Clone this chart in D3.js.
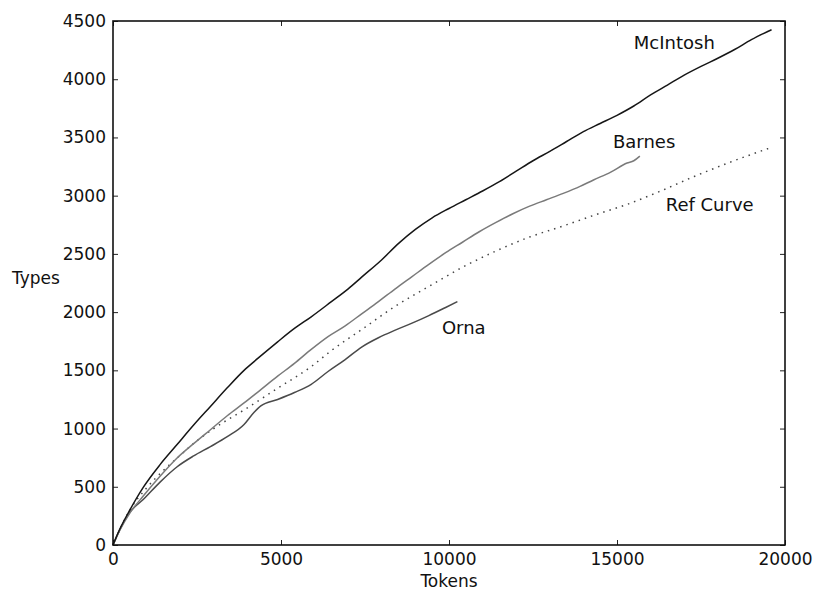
<!DOCTYPE html>
<html>
<head>
<meta charset="utf-8">
<script src="https://cdn.jsdelivr.net/npm/d3@7"></script>
<style>
  body { margin: 0; background: #fff; }
  text { font-family: "DejaVu Sans", sans-serif; fill: #111; }
</style>
</head>
<body>
<div id="chart"></div>
<script>
// data (tokens -> types)
var mcTokens = [0, 200, 500, 900, 1400, 1900, 2400, 2900, 3400, 3900, 4300, 4900, 5400, 5900, 6500, 7000, 7400, 8000, 8500, 9000, 9500, 10000, 10500, 11000, 11500, 12000, 12500, 13000, 13500, 14000, 14500, 15000, 15500, 16000, 16500, 17000, 17500, 18000, 18500, 19000, 19600];
var mcTypes  = [0, 135, 300, 495, 690, 860, 1030, 1190, 1350, 1500, 1600, 1745, 1860, 1960, 2090, 2200, 2300, 2450, 2590, 2710, 2810, 2890, 2965, 3040, 3120, 3210, 3300, 3380, 3465, 3550, 3620, 3690, 3770, 3865, 3950, 4035, 4110, 4180, 4255, 4340, 4425];

var barnesTokens = [0, 200, 500, 900, 1400, 1900, 2400, 2900, 3400, 3900, 4400, 4900, 5400, 5900, 6400, 6900, 7400, 7900, 8400, 8900, 9400, 9900, 10400, 10900, 11400, 11900, 12400, 12900, 13400, 13900, 14300, 14800, 15300, 15500, 15680];
var barnesTypes  = [0, 125, 275, 420, 590, 745, 870, 990, 1110, 1220, 1335, 1450, 1560, 1680, 1790, 1880, 1985, 2090, 2200, 2305, 2410, 2510, 2600, 2690, 2770, 2845, 2910, 2965, 3020, 3080, 3135, 3200, 3280, 3300, 3340];

var ornaTokens = [0, 200, 500, 900, 1400, 1900, 2400, 2900, 3400, 3900, 4200, 4400, 4900, 5400, 5900, 6400, 6900, 7400, 7900, 8400, 8900, 9400, 9900, 10250];
var ornaTypes  = [0, 130, 280, 390, 540, 670, 765, 845, 930, 1035, 1140, 1195, 1250, 1310, 1380, 1490, 1590, 1700, 1780, 1845, 1905, 1970, 2040, 2090];

var refTokens = [0, 500, 1000, 1500, 2000, 2400, 3000, 3900, 4900, 5900, 6500, 7400, 8400, 9400, 10400, 11400, 12400, 13400, 14400, 15300, 16300, 17300, 18300, 19500];
var refTypes  = [0, 300, 490, 640, 770, 873, 1000, 1160, 1346, 1532, 1670, 1850, 2050, 2220, 2385, 2525, 2645, 2740, 2840, 2925, 3040, 3165, 3280, 3405];

var labelNames  = ["McIntosh", "Barnes", "Ref Curve", "Orna"];
var labelTokens = [15500, 14880, 16450, 9790];
var labelTypes  = [4257, 3412, 2868, 1813];

var xTicks = [0, 5000, 10000, 15000, 20000];
var yTicks = [0, 500, 1000, 1500, 2000, 2500, 3000, 3500, 4000, 4500];

// set the dimensions and margins of the graph
var margin = {top: 21, right: 28, bottom: 48, left: 113},
    width = 813 - margin.left - margin.right,
    height = 593 - margin.top - margin.bottom;

var svg = d3.select("#chart")
  .append("svg")
    .attr("width", 813)
    .attr("height", 593)
  .append("g")
    .attr("transform", "translate(" + margin.left + "," + margin.top + ")");

var x = d3.scaleLinear().domain([0, 20000]).range([0, width]);
var y = d3.scaleLinear().domain([0, 4500]).range([height, 0]);

// axes, ticks point inward
function styleAxis(g) {
  g.select(".domain").remove();
  g.selectAll(".tick line").attr("stroke", "#222").attr("stroke-width", 1);
  g.selectAll("text").style("font-size", "17px").attr("fill", "#111");
}

svg.append("g")
  .attr("transform", "translate(0," + height + ")")
  .call(d3.axisBottom(x).tickValues(xTicks).tickFormat(d3.format("d")).tickSizeInner(-5).tickSizeOuter(0).tickPadding(8))
  .call(styleAxis);

svg.append("g")
  .call(d3.axisLeft(y).tickValues(yTicks).tickFormat(d3.format("d")).tickSizeInner(-5).tickSizeOuter(0).tickPadding(7))
  .call(styleAxis);

svg.append("g")
  .call(d3.axisTop(x).tickValues(xTicks).tickSizeInner(-5).tickSizeOuter(0).tickFormat(""))
  .call(styleAxis);

svg.append("g")
  .attr("transform", "translate(" + width + ",0)")
  .call(d3.axisRight(y).tickValues(yTicks).tickSizeInner(-5).tickSizeOuter(0).tickFormat(""))
  .call(styleAxis);

// the lines
var line = d3.line()
  .curve(d3.curveMonotoneX)
  .x(function (d) { return x(d[0]); })
  .y(function (d) { return y(d[1]); });

function pairs(xs, ys) {
  return xs.map(function (v, i) { return [v, ys[i]]; });
}

svg.append("path")
  .datum(pairs(refTokens, refTypes))
  .attr("d", line)
  .attr("fill", "none")
  .attr("stroke", "#444")
  .attr("stroke-width", 1.5)
  .attr("stroke-dasharray", "1.5,5");

svg.append("path")
  .datum(pairs(ornaTokens, ornaTypes))
  .attr("d", line)
  .attr("fill", "none")
  .attr("stroke", "#4a4a4a")
  .attr("stroke-width", 1.5);

svg.append("path")
  .datum(pairs(barnesTokens, barnesTypes))
  .attr("d", line)
  .attr("fill", "none")
  .attr("stroke", "#7a7a7a")
  .attr("stroke-width", 1.5);

svg.append("path")
  .datum(pairs(mcTokens, mcTypes))
  .attr("d", line)
  .attr("fill", "none")
  .attr("stroke", "#161616")
  .attr("stroke-width", 1.5);

// frame
svg.append("rect")
  .attr("width", width)
  .attr("height", height)
  .attr("fill", "none")
  .attr("stroke", "#111")
  .attr("stroke-width", 1.6);

// series names
svg.selectAll(".lbl")
  .data(labelNames)
  .enter()
  .append("text")
    .attr("class", "lbl")
    .attr("x", function (d, i) { return x(labelTokens[i]); })
    .attr("y", function (d, i) { return y(labelTypes[i]); })
    .style("font-size", "18px")
    .text(function (d) { return d; });

// axis titles
svg.append("text")
  .attr("x", width / 2)
  .attr("y", height + 42)
  .attr("text-anchor", "middle")
  .style("font-size", "17px")
  .text("Tokens");

svg.append("text")
  .attr("x", 12 - margin.left)
  .attr("y", 284 - margin.top)
  .style("font-size", "17px")
  .text("Types");
</script>
</body>
</html>
